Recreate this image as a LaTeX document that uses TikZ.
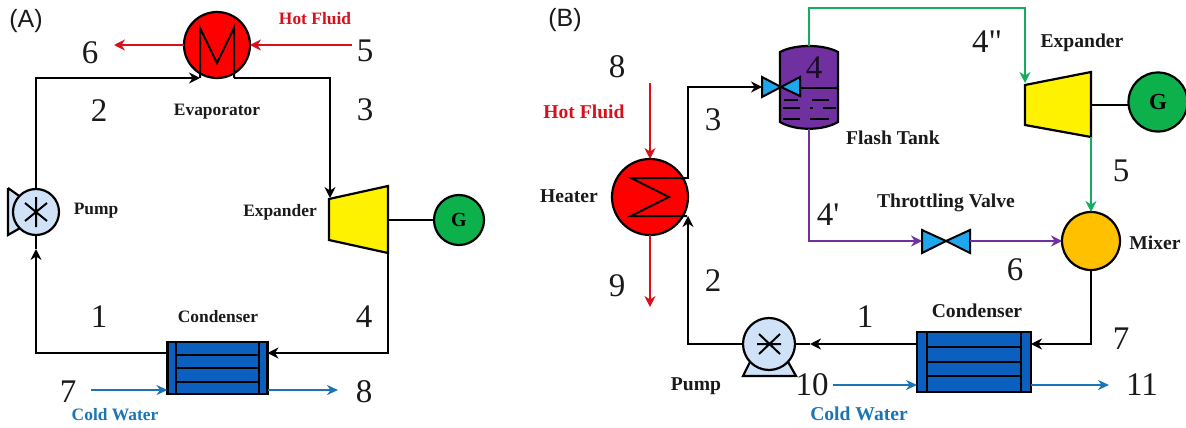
\documentclass[tikz,border=0pt]{standalone}
\usepackage{fontspec}
\setmainfont{Liberation Serif}
\newfontfamily\numfont{Liberation Serif}
\newfontfamily\headfont{Liberation Sans}
\usetikzlibrary{arrows.meta}
\definecolor{hotred}{HTML}{D9101C}
\definecolor{vesselred}{HTML}{FF0000}
\definecolor{coldblue}{HTML}{1B75B5}
\definecolor{hxblue}{HTML}{0B5FBE}
\definecolor{pumpblue}{HTML}{CFE2F8}
\definecolor{gengreen}{HTML}{0DB14B}
\definecolor{flowgreen}{HTML}{14AD5E}
\definecolor{tankpurple}{HTML}{7030A0}
\definecolor{valveblue}{HTML}{1EA7EC}
\definecolor{mixeryellow}{HTML}{FFC000}
\definecolor{numgrey}{HTML}{1A1A1A}
\tikzset{
  num/.style={font=\numfont\fontsize{33}{33}\selectfont,text=numgrey,inner sep=0pt},
  lab/.style={font=\fontsize{17.4}{18}\selectfont\bfseries,text=numgrey,inner sep=0pt},
  labB/.style={font=\fontsize{19.6}{20}\selectfont\bfseries,text=numgrey,inner sep=0pt},
  head/.style={font=\headfont\fontsize{25}{25}\selectfont,text=numgrey,inner sep=0pt},
  unit/.style={draw=black,line width=2.2pt,circle,inner sep=0pt,outer sep=0pt},
  pipe/.style={draw=black,line width=2.2pt,line join=miter},
  flow/.style={pipe,-{Stealth[length=11pt,width=11pt]}},
  hot/.style={draw=hotred,line width=2pt,-{Stealth[length=11pt,width=11pt]}},
  cold/.style={draw=coldblue,line width=2pt,-{Stealth[length=11pt,width=10pt]}},
  green flow/.style={draw=flowgreen,line width=2pt,line join=miter,-{Stealth[length=11pt,width=11pt]}},
  purple flow/.style={draw=tankpurple,line width=2pt,line join=miter,-{Stealth[length=11pt,width=11pt]}},
  hxbox/.style={draw=black,line width=2.2pt,fill=hxblue,inner sep=0pt,outer sep=0pt},
  inner/.style={draw=black,line width=2pt},
  thin/.style={draw=black,line width=1.7pt},
  valvepart/.style={draw=black,line width=2pt,fill=valveblue,line join=miter},
}
\begin{document}
\begin{tikzpicture}[x=1pt,y=-1pt]
\useasboundingbox (0,0) rectangle (1186,428);
\fill[white] (0,0) rectangle (1186,428);

% ---------- Panel A ----------
\node[head] (headA) at (26,21) {(A)};

% pump A
\fill[pumpblue] (8,188) -- (22,198) -- (22,227) -- (8,235) -- cycle;
\draw[pipe] (8,188) -- (22,198) (22,227) -- (8,235) -- (8,188);
\node[unit,fill=pumpblue,minimum size=46pt] (pumpA) at (36,212) {};
\draw[inner] (36,197) -- (36,227) (25,203) -- (47,221) (47,203) -- (25,221);

% evaporator A
\node[unit,fill=vesselred,minimum size=66pt] (evapA) at (217,45) {};
\coordinate (evapAin) at (200,78);
\coordinate (evapAout) at (234,78);
\draw[inner,line join=miter] (evapAin) -- (200,28) -- (217,63) -- (234,28) -- (evapAout);

% expander A
\coordinate (expAa) at (329,199);
\coordinate (expAb) at (388,186);
\coordinate (expAc) at (388,253);
\coordinate (expAd) at (329,240);
\draw[pipe,fill=yellow] (expAa) -- (expAb) -- (expAc) -- (expAd) -- cycle;
\coordinate (expAshaft) at (388,220);
\node[unit,fill=gengreen,minimum size=50pt,font=\fontsize{20}{20}\selectfont\bfseries] (genA) at (459,220) {G};

% condenser A
\node[hxbox,minimum width=100pt,minimum height=52pt] (condA) at (217.5,368) {};
\draw[inner] (176,342) -- (176,394) (259,342) -- (259,394)
  (176,355) -- (259,355) (176,368) -- (259,368) (176,382) -- (259,382);

% corners A
\coordinate (cA1) at (36,78);
\coordinate (cA2) at (330,78);
\coordinate (cA3) at (388,353);
\coordinate (cA4) at (36,353);
\coordinate (condAinR) at (267.5,353);
\coordinate (condAoutL) at (167.5,353);
\coordinate (expAin) at (330,198);
\coordinate (pumpAin) at (36,249);
\coordinate (hotAs) at (352,45);
\coordinate (hotAe) at (114,45);
\coordinate (coldAs) at (91,390);
\coordinate (coldAe) at (338,390);
\coordinate (condAcl) at (167.5,390);
\coordinate (condAcr) at (267.5,390);

\draw[flow] (pumpA.north) -- (cA1) -- (evapAin);
\draw[flow] (evapAout) -- (cA2) -- (expAin);
\draw[flow] (expAc) -- (cA3) -- (condAinR);
\draw[flow] (condAoutL) -- (cA4) -- (pumpAin);
\draw[pipe] (pumpAin) -- (pumpA.south);
\draw[pipe] (expAshaft) -- (genA.west);
\draw[hot] (hotAs) -- (evapA.east);
\draw[hot] (evapA.west) -- (hotAe);
\draw[cold] (coldAs) -- (condAcl);
\draw[cold] (condAcr) -- (coldAe);

\node[num] (n6A) at (90,53) {6};
\node[num] (n5A) at (365,51) {5};
\node[num] (n2A) at (99,111) {2};
\node[num] (n3A) at (365,110) {3};
\node[num] (n1A) at (99,317) {1};
\node[num] (n4A) at (364,317) {4};
\node[num] (n7A) at (68,392) {7};
\node[num] (n8A) at (364,392) {8};
\node[lab,text=hotred] (hotlabA) at (315,19) {Hot Fluid};
\node[lab] (evaplab) at (217,112) {Evaporator};
\node[lab] (pumplabA) at (96,211) {Pump};
\node[lab] (explabA) at (280,212) {Expander};
\node[lab] (condlabA) at (218,317) {Condenser};
\node[lab,text=coldblue] (coldlabA) at (115,415) {Cold Water};

% ---------- Panel B ----------
\node[head] (headB) at (565,20) {(B)};

% heater
\node[unit,fill=vesselred,minimum size=76pt] (heat) at (650,197) {};
\coordinate (heatOut) at (687,178);
\coordinate (heatIn) at (687,216);
\draw[inner,line join=miter] (heatOut) -- (631,178) -- (669,197) -- (631,216) -- (heatIn);

% flash tank
\draw[pipe,fill=tankpurple] (780,52) .. controls (795,44) and (823,44) .. (838,52)
  -- (838,122) .. controls (823,131) and (795,131) .. (780,122) -- cycle;
\coordinate (tankTop) at (809,46);
\coordinate (tankBot) at (809,129);
\draw[thin] (800,88) -- (838,88);
\draw[thin] (784,100) -- (798,100) (812,100) -- (829,100)
  (783,108) -- (800,108) (810,108) -- (813,108) (823,108) -- (836,108)
  (783,119) -- (800,119) (810,119) -- (829,119);

% inlet valve
\coordinate (valveIn) at (762,87);
\draw[valvepart] (762,77) -- (781,87) -- (762,97) -- cycle;
\draw[valvepart] (800,77) -- (781,87) -- (800,96) -- cycle;

% expander B
\coordinate (expBa) at (1025,85);
\coordinate (expBb) at (1091,72);
\coordinate (expBc) at (1091,137);
\coordinate (expBd) at (1025,125);
\draw[pipe,fill=yellow] (expBa) -- (expBb) -- (expBc) -- (expBd) -- cycle;
\coordinate (expBshaft) at (1091,105);
\coordinate (expBin) at (1025,83);
\node[unit,fill=gengreen,minimum size=59pt,font=\fontsize{23}{23}\selectfont\bfseries] (genB) at (1158,102) {G};

% throttling valve
\coordinate (tvIn) at (922,241);
\coordinate (tvOut) at (970,241);
\draw[valvepart] (922,230) -- (946,241) -- (922,253) -- cycle;
\draw[valvepart] (970,230) -- (946,241) -- (970,253) -- cycle;

% mixer
\node[unit,fill=mixeryellow,minimum size=58pt] (mixer) at (1091,241) {};

% condenser B
\node[hxbox,minimum width=114pt,minimum height=60pt] (condB) at (974,362) {};
\draw[inner] (927,332) -- (927,392) (1021,332) -- (1021,392)
  (927,347) -- (1021,347) (927,362) -- (1021,362) (927,376) -- (1021,376);

% pump B
\draw[pipe,fill=pumpblue,line join=miter] (751,360) -- (743,376) -- (796,376) -- (787,360) -- cycle;
\node[unit,fill=pumpblue,minimum size=52pt] (pumpB) at (769,344) {};
\draw[inner] (757,344) -- (781,344) (759,334) -- (780,354) (780,334) -- (759,354);

% corners B
\coordinate (cB1) at (688,87);
\coordinate (cB2) at (688,344);
\coordinate (cB3) at (809,8);
\coordinate (cB4) at (1025,8);
\coordinate (cB5) at (809,241);
\coordinate (cB6) at (1091,344);
\coordinate (condBinR) at (1031,344);
\coordinate (condBoutL) at (917,344);
\coordinate (pumpBin) at (810,344);
\coordinate (hotBs) at (650,83);
\coordinate (hotBe) at (650,307);
\coordinate (coldBs) at (833,385);
\coordinate (coldBe) at (1109,385);
\coordinate (condBcl) at (917,385);
\coordinate (condBcr) at (1031,385);

\draw[flow] (heatOut) -- (688,178) -- (cB1) -- (valveIn);
\draw[flow] (pumpB.west) -- (cB2) -- (688,216);
\draw[flow] (condBoutL) -- (pumpBin);
\draw[pipe] (pumpBin) -- (pumpB.east);
\draw[flow] (mixer.south) -- (cB6) -- (condBinR);
\draw[pipe] (expBshaft) -- (expBshaft -| genB.west);
\draw[green flow] (tankTop) -- (cB3) -- (cB4) -- (expBin);
\draw[green flow] (expBc) -- (mixer.north);
\draw[purple flow] (tankBot) -- (cB5) -- (tvIn);
\draw[purple flow] (tvOut) -- (mixer.west);
\draw[hot] (hotBs) -- (heat.north);
\draw[hot] (heat.south) -- (hotBe);
\draw[cold] (coldBs) -- (condBcl);
\draw[cold] (condBcr) -- (coldBe);

\node[num] (n8B) at (617,67) {8};
\node[num] (n3B) at (713,120) {3};
\node[num,text=black!75!tankpurple] (n4B) at (814,68) {4};
\node[num] (n4pp) at (987,42) {4"};
\node[num] (n4p) at (828,215) {4'};
\node[num] (n5B) at (1121,171) {5};
\node[num] (n6B) at (1015,270) {6};
\node[num] (n2B) at (713,281) {2};
\node[num] (n9B) at (617,286) {9};
\node[num] (n1B) at (865,317) {1};
\node[num] (n7B) at (1121,339) {7};
\node[num] (n10B) at (812,385) {10};
\node[num] (n11B) at (1142,385) {11};
\node[labB,text=hotred] (hotlabB) at (584,112) {Hot Fluid};
\node[labB] (heatlab) at (569,196) {Heater};
\node[labB] (flashlab) at (893,138) {Flash Tank};
\node[labB] (throtlab) at (946,203) {Throttling Valve};
\node[labB] (explabB) at (1082,43) {Expander};
\node[labB] (mixlab) at (1155,243) {Mixer};
\node[labB] (condlabB) at (977,311) {Condenser};
\node[labB] (pumplabB) at (696,386) {Pump};
\node[labB,text=coldblue] (coldlabB) at (859,414) {Cold Water};
\end{tikzpicture}
\end{document}
